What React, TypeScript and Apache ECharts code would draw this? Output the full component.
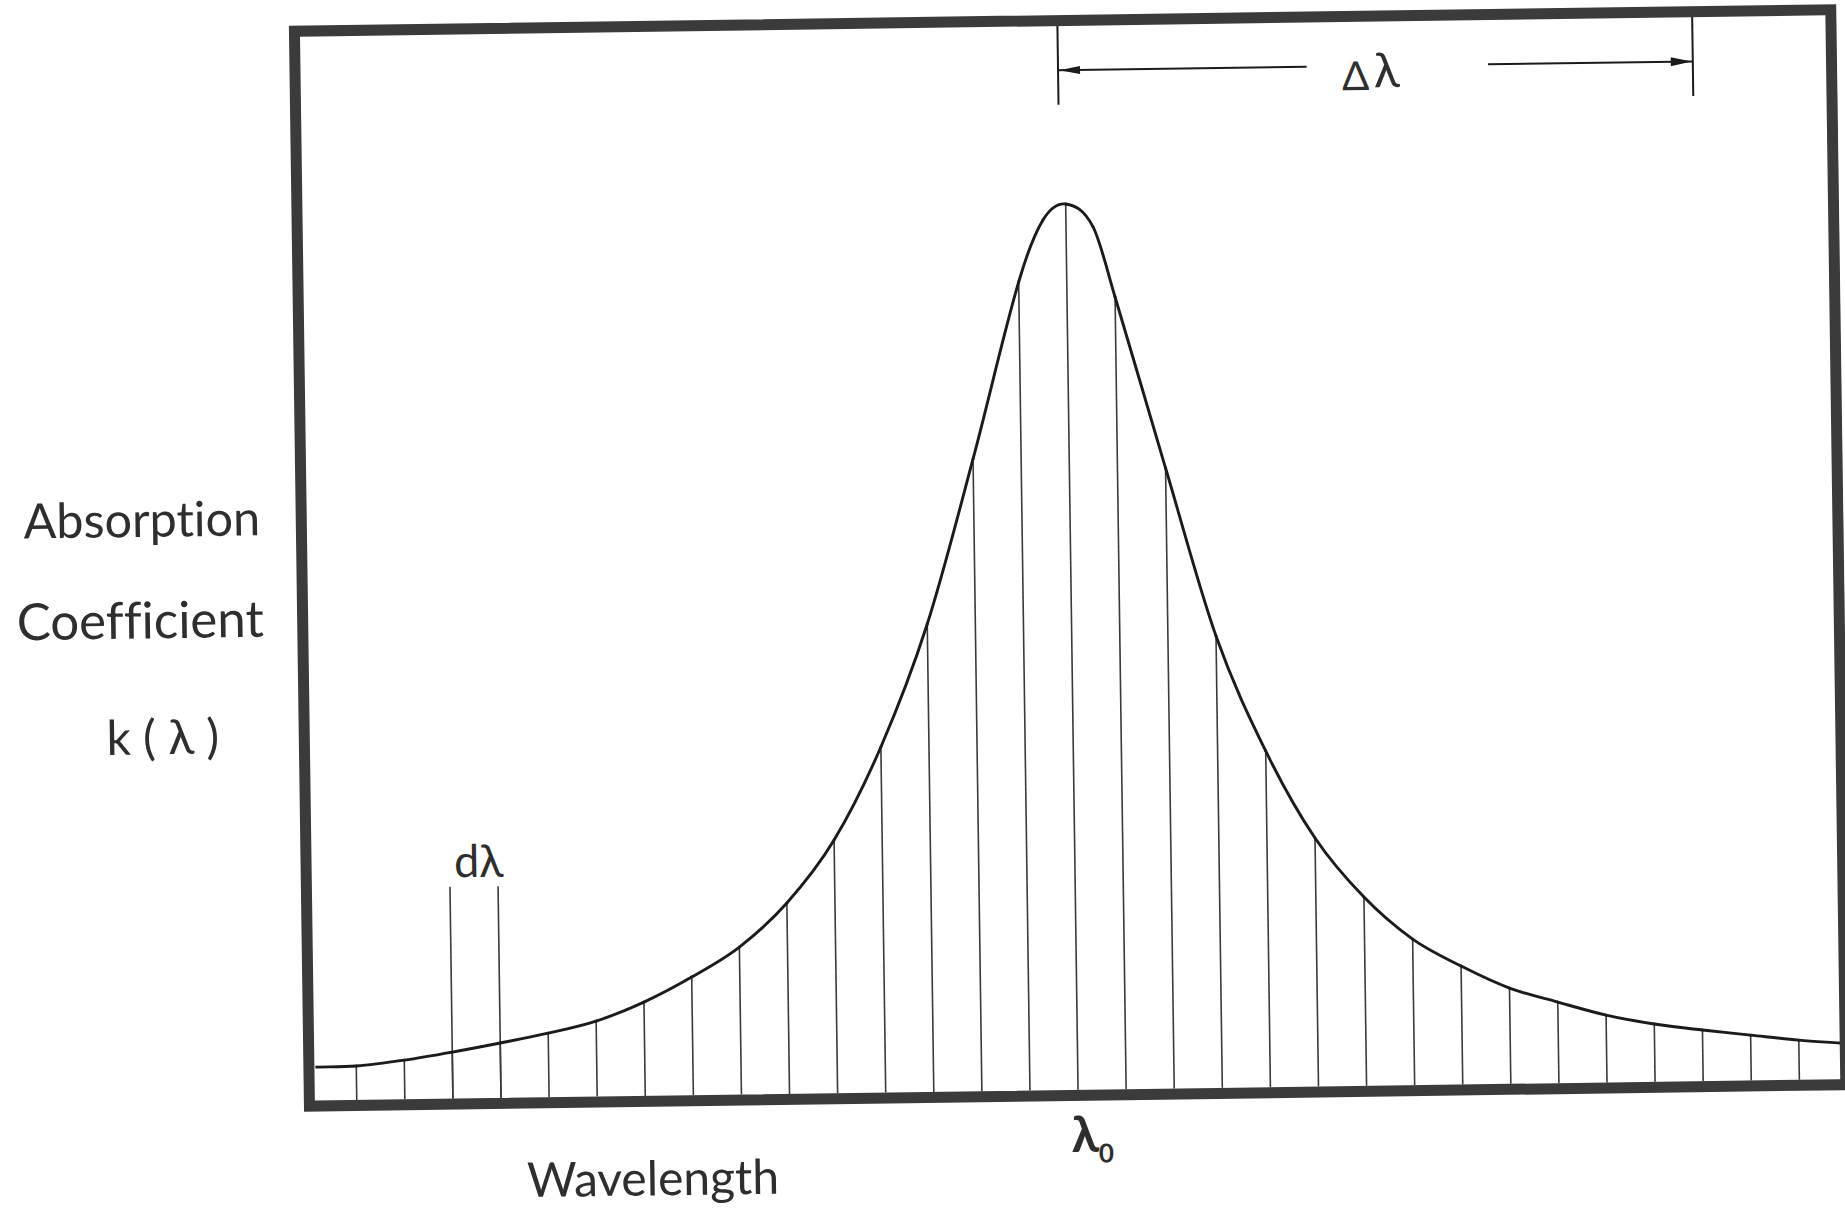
import React, { useEffect, useRef } from "react";
import * as echarts from "echarts";

// Wavelength offset of each strip edge from the line centre λ0, in units of dλ
const stripOffsets = [
  -15, -14, -13, -12, -11, -10, -9, -8, -7, -6, -5, -4, -3, -2, -1, 0,
  1, 2, 3, 4, 5, 6, 7, 8, 9, 10, 11, 12, 13, 14, 15,
];
// Absorption coefficient k(λ) at each strip edge (arbitrary units, peak = 10)
const stripK = [
  0.383, 0.442, 0.525, 0.62, 0.723, 0.852, 1.059, 1.334, 1.665, 2.155, 2.858,
  3.901, 5.281, 7.137, 9.127, 10.0, 8.942, 7.004, 5.1, 3.795, 2.805, 2.131,
  1.649, 1.337, 1.081, 0.915, 0.761, 0.652, 0.577, 0.512, 0.448,
];
// Further points on the profile: both ends of the window and the shoulders of the peak
const profileExtraX = [-15.85, -0.48, 0.56, 15.85];
const profileExtraK = [0.377, 9.82, 9.74, 0.409];

// The single strip singled out as dλ, and how high its edges are drawn
const dLambdaEdges = [-13, -12];
const dLambdaRuleK = 2.39;

// Extent of the Δλ dimension arrow along the wavelength axis
const deltaLambdaEdges = [-0.12, 13.08];

// Visible window of the plot
const windowX = [-15.85, 15.85];
const kRange = [0, 12];

const TEXT = "#2e2e2e";
const INK = "#1b1b1b";
const HATCH = "#3a3a3a";
const FRAME = "#3b3b3b";
const FONT = "Lato, 'Noto Sans', 'DejaVu Sans', sans-serif";

// Draws a thin vertical rule from the baseline up to the item's k value
function verticalRule(color: string, width: number) {
  return (_params: any, api: any) => {
    const x = api.value(0);
    const top = api.coord([x, api.value(1)]);
    const base = api.coord([x, 0]);
    return {
      type: "line",
      shape: { x1: base[0], y1: base[1], x2: top[0], y2: top[1] },
      style: { stroke: color, lineWidth: width },
    };
  };
}

// Profile drawn as a C1-continuous chain of cubic Bézier pieces (Hermite form,
// tangents from neighbouring points), one piece per data item.
function profileCurve(points: number[][]) {
  return (params: any, api: any) => {
    const i = params.dataIndex;
    const n = points.length;
    if (i >= n - 1) return null;
    const p = points.map((d) => api.coord(d) as number[]);
    const slope = (j: number) => {
      const a = p[Math.max(0, j - 1)];
      const b = p[Math.min(n - 1, j + 1)];
      return (b[1] - a[1]) / (b[0] - a[0]);
    };
    const h = p[i + 1][0] - p[i][0];
    const m0 = slope(i);
    const m1 = slope(i + 1);
    return {
      type: "bezierCurve",
      shape: {
        x1: p[i][0],
        y1: p[i][1],
        cpx1: p[i][0] + h / 3,
        cpy1: p[i][1] + (m0 * h) / 3,
        cpx2: p[i + 1][0] - h / 3,
        cpy2: p[i + 1][1] - (m1 * h) / 3,
        x2: p[i + 1][0],
        y2: p[i + 1][1],
      },
      style: { stroke: INK, lineWidth: 2.9, fill: "none", lineCap: "round" },
    };
  };
}

// Dimension arrow: two end ticks, a split shaft with a gap for the label, arrowheads
function dimensionArrow(_params: any, api: any) {
  const x0 = api.value(0);
  const x1 = api.value(1);
  const [lx, topY] = api.coord([x0, kRange[1]]);
  const [rx] = api.coord([x1, kRange[1]]);
  const tickBottom = api.coord([x0, 11.12])[1];
  const shaftY = api.coord([x0, 11.51])[1];
  const gapL = api.coord([5.05, 0])[0];
  const gapR = api.coord([8.82, 0])[0];
  const stroke = { stroke: INK, lineWidth: 2 };
  const head = 22;
  return {
    type: "group",
    children: [
      { type: "line", shape: { x1: lx, y1: topY - 4, x2: lx, y2: tickBottom }, style: stroke },
      { type: "line", shape: { x1: rx, y1: topY - 4, x2: rx, y2: tickBottom }, style: stroke },
      { type: "line", shape: { x1: lx, y1: shaftY, x2: gapL, y2: shaftY }, style: stroke },
      { type: "line", shape: { x1: gapR, y1: shaftY, x2: rx, y2: shaftY }, style: stroke },
      {
        type: "polygon",
        shape: { points: [[lx + 1, shaftY], [lx + head, shaftY - 4], [lx + head, shaftY + 4]] },
        style: { fill: INK },
      },
      {
        type: "polygon",
        shape: { points: [[rx - 1, shaftY], [rx - head, shaftY - 4.5], [rx - head, shaftY + 4.5]] },
        style: { fill: INK },
      },
    ],
  };
}

function label(text: string, x: number, y: number, size: number, weight = "normal") {
  return {
    type: "text",
    x,
    y,
    z: 120,
    silent: true,
    style: {
      text,
      fill: TEXT,
      fontSize: size,
      fontFamily: FONT,
      fontWeight: weight,
      textAlign: "center",
      textVerticalAlign: "middle",
    },
  };
}

export default function App() {
  const ref = useRef<HTMLDivElement>(null);

  useEffect(() => {
    const el = ref.current;
    if (!el) return;
    const chart = echarts.init(el, null, { renderer: "svg" });

    const profile = [
      ...stripOffsets.map((x, i) => [x, stripK[i]]),
      ...profileExtraX.map((x, i) => [x, profileExtraK[i]]),
    ].sort((a, b) => a[0] - b[0]);

    chart.setOption({
      animation: false,
      backgroundColor: "#ffffff",
      grid: { left: 309, right: 11.5, top: 28.8, bottom: 116 },
      xAxis: { type: "value", min: windowX[0], max: windowX[1], show: false },
      yAxis: { type: "value", min: kRange[0], max: kRange[1], show: false },
      series: [
        {
          type: "custom",
          name: "strips",
          data: stripOffsets.map((x, i) => [x, stripK[i]]),
          encode: { x: 0, y: 1 },
          renderItem: verticalRule(HATCH, 1.6),
          silent: true,
          z: 2,
        },
        {
          type: "custom",
          name: "dλ",
          data: dLambdaEdges.map((x) => [x, dLambdaRuleK]),
          encode: { x: 0, y: 1 },
          renderItem: verticalRule(HATCH, 1.6),
          silent: true,
          z: 2,
        },
        {
          type: "custom",
          name: "k(λ)",
          data: profile,
          encode: { x: 0, y: 1 },
          renderItem: profileCurve(profile),
          silent: true,
          clip: true,
          z: 3,
        },
        {
          type: "custom",
          name: "Δλ",
          data: [[deltaLambdaEdges[0], deltaLambdaEdges[1]]],
          encode: { x: [0, 1] },
          renderItem: dimensionArrow,
          silent: true,
          z: 4,
        },
      ],
    });

    const px = (x: number, y: number) =>
      chart.convertToPixel({ gridIndex: 0 }, [x, y]) as number[];

    const centre = px(0, 0);
    const dl = px((dLambdaEdges[0] + dLambdaEdges[1]) / 2, 2.69);
    const dL = px(6.4, 11.42);

    chart.setOption({
      graphic: [
        {
          type: "rect",
          z: 100,
          silent: true,
          shape: { x: 302.5, y: 22.5, width: 1536.5, height: 1075 },
          style: { fill: "none", stroke: FRAME, lineWidth: 11, lineJoin: "miter" },
        },
        label("Absorption", 143, 507, 48.5),
        label("Coefficient", 140, 608, 51),
        label("k ( λ )", 161, 725, 48),
        label("Wavelength", 645, 1173, 48),
        label("dλ", dl[0] + 5, dl[1], 45),
        label("Δ", dL[0] - 16, dL[1] + 1, 40),
        label("λ", dL[0] + 15, dL[1] - 5, 48),
        label("λ", centre[0] + 6.5, 1135, 50, "bold"),
        label("0", centre[0] + 27.5, 1155, 26, "bold"),
      ],
    });

    return () => chart.dispose();
  }, []);

  return (
    <div
      style={{
        position: "fixed",
        left: 0,
        top: 0,
        width: 1845,
        height: 1208,
        overflow: "hidden",
        background: "#ffffff",
        fontFeatureSettings: '"liga" 0, "clig" 0',
      }}
    >
      <div
        ref={ref}
        style={{
          width: 1845,
          height: 1208,
          transform: "rotate(-0.8deg)",
          transformOrigin: "50% 50%",
        }}
      />
    </div>
  );
}
